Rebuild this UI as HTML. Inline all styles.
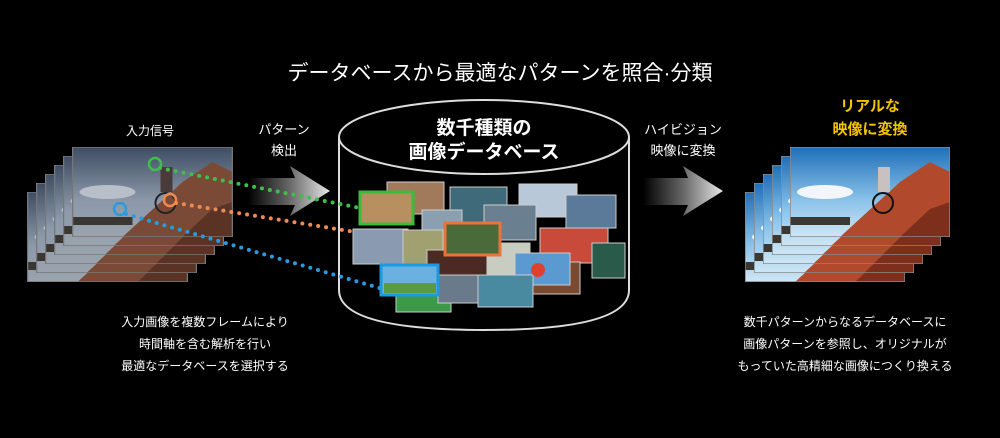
<!DOCTYPE html>
<html><head><meta charset="utf-8"><style>
html,body{margin:0;padding:0;background:#000;}
svg{display:block}
text{font-family:"Liberation Sans","Noto Sans CJK JP",sans-serif;}
</style></head><body>
<svg width="1000" height="438" viewBox="0 0 1000 438" xmlns="http://www.w3.org/2000/svg">
<defs>
<linearGradient id="skyL" x1="0" y1="0" x2="0" y2="1"><stop offset="0" stop-color="#3e4d63"/><stop offset="0.6" stop-color="#8c99aa"/><stop offset="1" stop-color="#9aa3ad"/></linearGradient>
<linearGradient id="skyR" x1="0" y1="0" x2="0" y2="1"><stop offset="0" stop-color="#1f6fb8"/><stop offset="0.6" stop-color="#8cc3ea"/><stop offset="1" stop-color="#cfe6f5"/></linearGradient>
<linearGradient id="arr" x1="0" y1="0" x2="1" y2="0"><stop offset="0" stop-color="#000"/><stop offset="0.5" stop-color="#666"/><stop offset="1" stop-color="#e8e8e8"/></linearGradient>
<symbol id="picL" viewBox="0 0 160 90">
<rect width="160" height="90" fill="url(#skyL)"/>
<ellipse cx="35" cy="45" rx="28" ry="7" fill="#b8bfc8"/>
<rect x="0" y="70" width="60" height="8" fill="#3a3632"/>
<polygon points="50,90 110,35 140,15 160,25 160,90" fill="#7b4a36"/>
<polygon points="110,90 140,62 160,55 160,90" fill="#5a3325"/>
<circle cx="93" cy="56" r="10" fill="none" stroke="#222" stroke-width="2"/>
<rect x="88" y="20" width="12" height="25" fill="#4a3a3a"/>
<rect x="0" y="0" width="160" height="90" fill="none" stroke="#777" stroke-width="1.5"/>
</symbol>
<symbol id="picR" viewBox="0 0 160 90">
<rect width="160" height="90" fill="url(#skyR)"/>
<ellipse cx="35" cy="45" rx="28" ry="7" fill="#f2f6fa"/>
<rect x="0" y="70" width="60" height="8" fill="#3b3733"/>
<polygon points="50,90 110,35 140,15 160,25 160,90" fill="#b14a2c"/>
<polygon points="110,90 140,62 160,55 160,90" fill="#7e2f1c"/>
<circle cx="93" cy="56" r="10" fill="none" stroke="#111" stroke-width="2"/>
<rect x="88" y="20" width="12" height="25" fill="#c9c0c0"/>
<rect x="0" y="0" width="160" height="90" fill="none" stroke="#888" stroke-width="1.5"/>
</symbol>
</defs>

<text x="500" y="80" fill="#fff" font-size="21" text-anchor="middle">データベースから最適なパターンを照合·分類</text>

<use href="#picL" x="27" y="192" width="161" height="90"/>
<use href="#picL" x="36" y="183" width="161" height="90"/>
<use href="#picL" x="45" y="174" width="161" height="90"/>
<use href="#picL" x="54" y="165" width="161" height="90"/>
<use href="#picL" x="63" y="156" width="161" height="90"/>
<use href="#picL" x="72" y="147" width="161" height="90"/>
<text x="150" y="135" fill="#fff" font-size="12" text-anchor="middle">入力信号</text>

<polygon points="248,178 295,178 290,166 330,191 290,216 295,205 248,205" fill="url(#arr)"/>
<text x="284" y="134" fill="#fff" font-size="13" text-anchor="middle">パターン</text>
<text x="284" y="155" fill="#fff" font-size="13" text-anchor="middle">検出</text>

<path d="M339,137 L339,290 Q339,330 484,330 Q629,330 629,290 L629,137" fill="none" stroke="#ddd" stroke-width="2"/>
<ellipse cx="484" cy="137" rx="145" ry="37" fill="#000" stroke="#ddd" stroke-width="2"/>
<text x="484" y="134" fill="#fff" font-size="19" font-weight="bold" text-anchor="middle">数千種類の</text>
<text x="484" y="158" fill="#fff" font-size="19" font-weight="bold" text-anchor="middle">画像データベース</text>

<g stroke="#ccc" stroke-width="1">
<rect x="387" y="182" width="57" height="32" fill="#a07a5a"/>
<rect x="450" y="187" width="57" height="35" fill="#3f6a7a"/>
<rect x="519" y="184" width="58" height="33" fill="#b8c8d8"/>
<rect x="566" y="195" width="50" height="33" fill="#5b7a9a"/>
<rect x="422" y="210" width="40" height="40" fill="#8aa0b0"/>
<rect x="353" y="229" width="55" height="35" fill="#8a9ab0"/>
<rect x="403" y="230" width="40" height="38" fill="#a0a070"/>
<rect x="484" y="205" width="52" height="35" fill="#6a8090"/>
<rect x="540" y="228" width="68" height="35" fill="#c84a3a"/>
<rect x="592" y="243" width="33" height="35" fill="#2a5a4a"/>
<rect x="470" y="243" width="60" height="35" fill="#c9ccc0"/>
<rect x="427" y="250" width="60" height="30" fill="#4a2a22"/>
<rect x="530" y="262" width="50" height="32" fill="#7a4a30"/>
<rect x="515" y="253" width="55" height="32" fill="#5a9ad0"/>
<rect x="396" y="280" width="55" height="32" fill="#3a9a4a"/>
<rect x="478" y="275" width="55" height="32" fill="#4a8aa0"/>
<rect x="438" y="275" width="40" height="28" fill="#6a7a8a"/>
</g>
<rect x="445" y="223" width="55" height="32" fill="#4a6a3a" stroke="#e8743a" stroke-width="3"/>
<rect x="360" y="192" width="53" height="32" fill="#b89060" stroke="#3cba3c" stroke-width="3"/>
<rect x="381" y="265" width="57" height="30" fill="#6ab0e0" stroke="#1a9ae0" stroke-width="3"/>
<rect x="384" y="283" width="52" height="10" fill="#5a9a40"/>
<circle cx="538" cy="270" r="7" fill="#e04030"/>

<g fill="none" stroke-width="4" stroke-linecap="round" stroke-dasharray="0 8">
<line x1="160" y1="168" x2="360" y2="208" stroke="#3fbf4a"/>
<line x1="176" y1="203" x2="355" y2="232" stroke="#f08a50"/>
<line x1="126" y1="214" x2="383" y2="289" stroke="#2a9ae0"/>
</g>
<circle cx="155" cy="164" r="6" fill="none" stroke="#3fbf4a" stroke-width="2.5"/>
<circle cx="170" cy="200" r="6" fill="none" stroke="#f08a50" stroke-width="2.5"/>
<circle cx="120" cy="209" r="6" fill="none" stroke="#2a9ae0" stroke-width="2.5"/>

<polygon points="643,178 688,178 683,166 723,191 683,216 688,205 643,205" fill="url(#arr)"/>
<text x="683" y="134" fill="#fff" font-size="13" text-anchor="middle">ハイビジョン</text>
<text x="683" y="155" fill="#fff" font-size="13" text-anchor="middle">映像に変換</text>

<use href="#picR" x="745" y="192" width="160" height="90"/>
<use href="#picR" x="754" y="183" width="160" height="90"/>
<use href="#picR" x="763" y="174" width="160" height="90"/>
<use href="#picR" x="772" y="165" width="160" height="90"/>
<use href="#picR" x="781" y="156" width="160" height="90"/>
<use href="#picR" x="790" y="147" width="160" height="90"/>
<text x="870" y="111" fill="#f5c400" font-size="15" font-weight="bold" text-anchor="middle">リアルな</text>
<text x="870" y="134" fill="#f5c400" font-size="15" font-weight="bold" text-anchor="middle">映像に変換</text>

<g fill="#fff" font-size="12" text-anchor="middle">
<text x="205" y="326">入力画像を複数フレームにより</text>
<text x="205" y="348">時間軸を含む解析を行い</text>
<text x="205" y="370">最適なデータベースを選択する</text>
<text x="845" y="326">数千パターンからなるデータベースに</text>
<text x="845" y="348">画像パターンを参照し、オリジナルが</text>
<text x="845" y="370">もっていた高精細な画像につくり換える</text>
</g>
</svg>
</body></html>
